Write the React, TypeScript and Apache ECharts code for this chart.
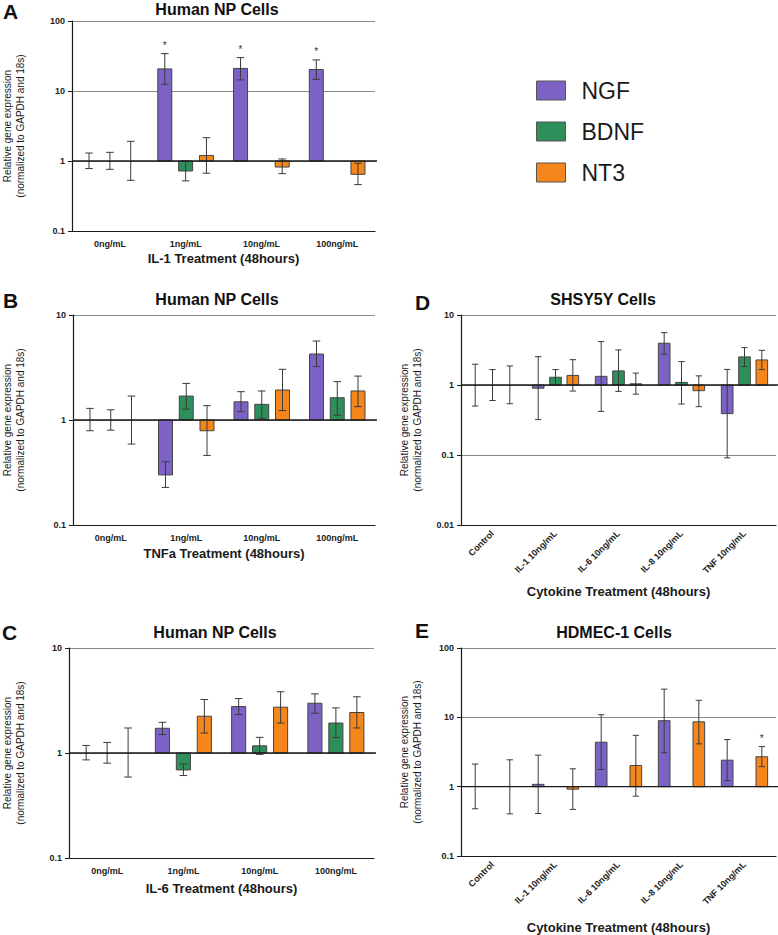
import React, { useEffect, useRef } from 'react';
import * as echarts from 'echarts';

const FONT = '"Liberation Sans", Arial, Helvetica, sans-serif';
const COLORS = ['#7d62c6', '#2f8f5a', '#f4861c'];
const GENES = ['NGF', 'BDNF', 'NT3'];

const catsNP = ['0ng/mL', '1ng/mL', '10ng/mL', '100ng/mL'];
const catsCyto = ['Control', 'IL-1 10ng/mL', 'IL-6 10ng/mL', 'IL-8 10ng/mL', 'TNF 10ng/mL'];
const yName = 'Relative gene expression\n(normalized to GAPDH and 18s)';

// Panel A: IL-1 (Human NP cells)
const aNGF = [1, 20.7, 21.0, 20.3];
const aNGFLow = [0.78, 12.5, 14.4, 14.7];
const aNGFHigh = [1.3, 34.2, 30.0, 27.8];
const aBDNF = [1, 0.72, null, null];
const aBDNFLow = [0.76, 0.52, null, null];
const aBDNFHigh = [1.33, 1.0, null, null];
const aNT3 = [1, 1.2, 0.82, 0.645];
const aNT3Low = [0.53, 0.67, 0.66, 0.46];
const aNT3High = [1.91, 2.15, 1.07, 0.93];
const aStarsNGF = [1, 2, 3];

// Panel B: TNFa (Human NP cells)
const bNGF = [1, 0.3, 1.49, 4.25];
const bNGFLow = [0.79, 0.228, 1.2, 3.22];
const bNGFHigh = [1.29, 0.4, 1.86, 5.65];
const bBDNF = [1, 1.69, 1.41, 1.63];
const bBDNFLow = [0.8, 1.27, 1.04, 1.11];
const bBDNFHigh = [1.25, 2.23, 1.89, 2.32];
const bNT3 = [1, 0.79, 1.93, 1.89];
const bNT3Low = [0.59, 0.46, 1.23, 1.34];
const bNT3High = [1.69, 1.37, 3.04, 2.62];

// Panel C: IL-6 (Human NP cells)
const cNGF = [1, 1.72, 2.77, 2.98];
const cNGFLow = [0.86, 1.5, 2.32, 2.39];
const cNGFHigh = [1.18, 1.96, 3.3, 3.66];
const cBDNF = [1, 0.69, 1.17, 1.93];
const cBDNFLow = [0.8, 0.61, 0.97, 1.4];
const cBDNFHigh = [1.26, 0.785, 1.41, 2.69];
const cNT3 = [1, 2.24, 2.73, 2.43];
const cNT3Low = [0.59, 1.55, 1.93, 1.73];
const cNT3High = [1.73, 3.23, 3.83, 3.43];

// Panel D: SHSY5Y cells
const dNGF = [1, 0.9, 1.33, 3.95, 0.39];
const dNGFLow = [0.5, 0.32, 0.42, 2.75, 0.091];
const dNGFHigh = [1.98, 2.54, 4.17, 5.6, 1.67];
const dBDNF = [1, 1.29, 1.59, 1.09, 2.52];
const dBDNFLow = [0.6, 1.0, 0.81, 0.535, 1.83];
const dBDNFHigh = [1.66, 1.66, 3.17, 2.16, 3.42];
const dNT3 = [1, 1.37, 1.04, 0.83, 2.28];
const dNT3Low = [0.54, 0.82, 0.74, 0.49, 1.66];
const dNT3High = [1.87, 2.3, 1.48, 1.35, 3.13];

// Panel E: HDMEC-1 cells (no BDNF)
const eNGF = [1, 1.08, 4.38, 8.95, 2.41];
const eNGFLow = [0.48, 0.41, 1.77, 3.08, 1.22];
const eNGFHigh = [2.12, 2.85, 10.9, 25.5, 4.78];
const eBDNF = [null, null, null, null, null];
const eNT3 = [1, 0.92, 2.02, 8.6, 2.7];
const eNT3Low = [0.405, 0.47, 0.73, 4.14, 1.94];
const eNT3High = [2.44, 1.81, 5.5, 17.6, 3.79];
const eStarsNT3 = [4];

type Trip = [(number | null)[], (number | null)[], (number | null)[], number[]];

interface Panel {
  letter: string;
  title: string;
  cats: string[];
  genes: Trip[];
  min: number;
  max: number;
  xName: string;
  grid: { left: number; top: number; width: number; height: number };
  titleX: number;
  titleY: number;
  letterX: number;
  letterY: number;
  yGap: number;
  xGap: number;
  rotate: number;
}

const panels: Panel[] = [
  {
    letter: 'A', title: 'Human NP Cells', cats: catsNP,
    genes: [[aNGF, aNGFLow, aNGFHigh, aStarsNGF], [aBDNF, aBDNFLow, aBDNFHigh, []], [aNT3, aNT3Low, aNT3High, []]],
    min: 0.1, max: 100, xName: 'IL-1 Treatment (48hours)',
    grid: { left: 60, top: 21, width: 315, height: 210 },
    titleX: 217, titleY: 1, letterX: 3, letterY: 1, yGap: 45, xGap: 21, rotate: 0,
  },
  {
    letter: 'B', title: 'Human NP Cells', cats: catsNP,
    genes: [[bNGF, bNGFLow, bNGFHigh, []], [bBDNF, bBDNFLow, bBDNFHigh, []], [bNT3, bNT3Low, bNT3High, []]],
    min: 0.1, max: 10, xName: 'TNFa Treatment (48hours)',
    grid: { left: 60, top: 315, width: 315, height: 210 },
    titleX: 217, titleY: 291, letterX: 3, letterY: 290, yGap: 46, xGap: 22, rotate: 0,
  },
  {
    letter: 'C', title: 'Human NP Cells', cats: catsNP,
    genes: [[cNGF, cNGFLow, cNGFHigh, []], [cBDNF, cBDNFLow, cBDNFHigh, []], [cNT3, cNT3Low, cNT3High, []]],
    min: 0.1, max: 10, xName: 'IL-6 Treatment (48hours)',
    grid: { left: 59, top: 648, width: 315, height: 210 },
    titleX: 215, titleY: 624, letterX: 2, letterY: 622, yGap: 42, xGap: 24, rotate: 0,
  },
  {
    letter: 'D', title: 'SHSY5Y Cells', cats: catsCyto,
    genes: [[dNGF, dNGFLow, dNGFHigh, []], [dBDNF, dBDNFLow, dBDNFHigh, []], [dNT3, dNT3Low, dNT3High, []]],
    min: 0.01, max: 10, xName: 'Cytokine Treatment (48hours)',
    grid: { left: 461, top: 315, width: 315, height: 210 },
    titleX: 603, titleY: 291, letterX: 415, letterY: 292, yGap: 37, xGap: 60, rotate: 45,
  },
  {
    letter: 'E', title: 'HDMEC-1 Cells', cats: catsCyto,
    genes: [[eNGF, eNGFLow, eNGFHigh, []], [eBDNF, eBDNF, eBDNF, []], [eNT3, eNT3Low, eNT3High, eStarsNT3]],
    min: 0.1, max: 100, xName: 'Cytokine Treatment (48hours)',
    grid: { left: 461, top: 648, width: 315, height: 209 },
    titleX: 614, titleY: 624, letterX: 415, letterY: 620, yGap: 37, xGap: 65, rotate: 45,
  },
];

function makeBarRender(k: number, nCats: number) {
  return (params: any, api: any) => {
    const idx = api.value(0);
    const v = api.value(1);
    const lo = api.value(2);
    const hi = api.value(3);
    const star = api.value(4);
    const band = params.coordSys.width / nCats;
    const top = api.coord([idx, v]);
    const base = api.coord([idx, 1]);
    const cx = top[0] + (k - 1) * band * 0.275;
    const bw = band * 0.185;
    const yLo = api.coord([idx, lo])[1];
    const yHi = api.coord([idx, hi])[1];
    const cap = band * 0.05;
    const children: any[] = [];
    const h = Math.abs(top[1] - base[1]);
    if (h > 0.5) {
      children.push({
        type: 'rect',
        shape: { x: cx - bw / 2, y: Math.min(top[1], base[1]), width: bw, height: h },
        style: { fill: COLORS[k], stroke: '#444', lineWidth: 1 },
      });
    }
    const ec = '#3a3a3a';
    children.push({ type: 'line', shape: { x1: cx, y1: yLo, x2: cx, y2: yHi }, style: { stroke: ec, lineWidth: 1 } });
    children.push({ type: 'line', shape: { x1: cx - cap, y1: yLo, x2: cx + cap, y2: yLo }, style: { stroke: ec, lineWidth: 1 } });
    children.push({ type: 'line', shape: { x1: cx - cap, y1: yHi, x2: cx + cap, y2: yHi }, style: { stroke: ec, lineWidth: 1 } });
    if (star) {
      children.push({
        type: 'text', x: cx, y: yHi - 3,
        style: { text: '*', fill: '#333', fontSize: 10, fontFamily: FONT, align: 'center', verticalAlign: 'bottom' },
      });
    }
    return { type: 'group', children };
  };
}

function baselineRender(params: any, api: any) {
  const y = api.coord([0, 1])[1];
  const cs = params.coordSys;
  return {
    type: 'line',
    shape: { x1: cs.x, y1: y, x2: cs.x + cs.width + 2, y2: y },
    style: { stroke: '#1a1a1a', lineWidth: 1.3 },
  };
}

function buildOption() {
  const grid: any[] = [];
  const xAxis: any[] = [];
  const yAxis: any[] = [];
  const series: any[] = [];
  const graphic: any[] = [];

  panels.forEach((p, g) => {
    grid.push({ ...p.grid, containLabel: false });
    xAxis.push({
      type: 'category', gridIndex: g, data: p.cats,
      axisLine: { lineStyle: { color: '#1a1a1a', width: 1.2 } },
      axisTick: { alignWithLabel: true, length: 4, lineStyle: { color: '#1a1a1a' } },
      axisLabel: {
        interval: 0, fontSize: 9, fontWeight: 'bold', color: '#222', fontFamily: FONT,
        rotate: p.rotate, margin: p.rotate ? 7 : 8,
      },
      splitLine: { show: false },
      name: p.xName, nameLocation: 'middle', nameGap: p.xGap,
      nameTextStyle: { fontSize: 13, fontWeight: 'bold', color: '#1a1a1a', fontFamily: FONT },
    });
    yAxis.push({
      type: 'log', logBase: 10, gridIndex: g, min: p.min, max: p.max,
      axisLine: { show: true, lineStyle: { color: '#1a1a1a', width: 1.2 } },
      axisTick: { show: true, length: 4, lineStyle: { color: '#1a1a1a' } },
      minorTick: { show: false },
      axisLabel: { fontSize: 9, fontWeight: 'bold', color: '#222', fontFamily: FONT, margin: 7 },
      splitLine: { show: true, lineStyle: { color: '#8a8a8a', width: 1 } },
      name: yName, nameLocation: 'middle', nameGap: p.yGap,
      nameTextStyle: { fontSize: 10, color: '#1a1a1a', fontFamily: FONT, lineHeight: 13 },
    });
    p.genes.forEach((trip, k) => {
      const [vals, lows, highs, stars] = trip;
      const data = vals
        .map((v, i) => (v == null ? null : [i, v, lows[i], highs[i], stars.includes(i) ? 1 : 0]))
        .filter((d) => d != null);
      series.push({
        type: 'custom', name: GENES[k], xAxisIndex: g, yAxisIndex: g,
        itemStyle: { color: COLORS[k], borderColor: '#444', borderWidth: 1 },
        encode: { x: 0, y: 1 },
        data,
        renderItem: makeBarRender(k, p.cats.length),
        z: 2,
      });
    });
    series.push({
      type: 'custom', name: 'baseline' + g, xAxisIndex: g, yAxisIndex: g,
      data: [[0, 1]], encode: { x: 0, y: 1 }, renderItem: baselineRender, z: 3, silent: true,
    });
    graphic.push({
      type: 'text', x: p.letterX, y: p.letterY,
      style: { text: p.letter, fontSize: 21, fontWeight: 'bold', fill: '#111', fontFamily: FONT, verticalAlign: 'top' },
    });
    graphic.push({
      type: 'text', x: p.titleX, y: p.titleY,
      style: { text: p.title, fontSize: 16, fontWeight: 'bold', fill: '#111', fontFamily: FONT, align: 'center', verticalAlign: 'top' },
    });
  });

  return {
    animation: false,
    backgroundColor: '#ffffff',
    color: COLORS,
    grid, xAxis, yAxis, series, graphic,
    legend: {
      data: GENES,
      orient: 'vertical',
      left: 531, top: 74,
      itemWidth: 29, itemHeight: 19, itemGap: 18,
      icon: 'rect',
      itemStyle: { borderColor: '#555', borderWidth: 1 },
      textStyle: { fontSize: 23, color: '#1a1a1a', fontFamily: FONT, padding: [0, 0, 0, 11] },
      selectedMode: false,
    },
  };
}

export default function App() {
  const ref = useRef<HTMLDivElement>(null);
  useEffect(() => {
    document.body.style.margin = '0';
    if (!ref.current) return;
    const chart = echarts.init(ref.current, undefined, { renderer: 'svg' });
    chart.setOption(buildOption() as any);
    return () => chart.dispose();
  }, []);
  return <div ref={ref} style={{ width: 778, height: 935, background: '#fff' }} />;
}
